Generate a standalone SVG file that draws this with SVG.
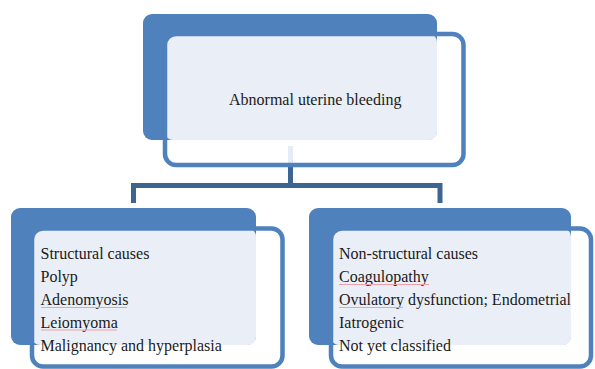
<svg xmlns="http://www.w3.org/2000/svg" width="595" height="369" viewBox="0 0 595 369">
<style>
.back{fill:#4f81bd}
.light{fill:#eaeff7}
.front{fill:none;stroke:#4f81bd;stroke-width:4.5}
.conn{fill:none;stroke:#3d6594;stroke-width:5}
.t{font-family:"Liberation Serif","Times New Roman",serif;font-size:16px;fill:#1a1a1a}
.sp{fill:none;stroke:#f0a0a8;stroke-width:1}
</style>
<rect width="595" height="369" fill="#ffffff"/>
<g id="connectors">
<line x1="290.5" y1="146" x2="290.5" y2="163" stroke="#e6ecf5" stroke-width="5"/>
<path class="conn" d="M133.5,203 V185.5 H440 V203 M290.5,167 V185.5"/>
</g>
<g id="node-top">
<rect class="back" x="143" y="14" width="294" height="126" rx="9"/>
<rect class="light" x="165" y="34" width="272" height="106" rx="8"/>
<rect class="front" x="165" y="34" width="298.5" height="131" rx="11"/>
<text class="t" x="229" y="105">Abnormal uterine bleeding</text>
</g>
<g id="node-structural">
<rect class="back" x="11" y="208" width="245" height="137" rx="9"/>
<rect class="light" x="32" y="228.5" width="224" height="116.5" rx="8"/>
<rect class="front" x="32" y="228.5" width="250.5" height="138" rx="11"/>
<text class="t" x="40.5" y="259">Structural causes</text>
<text class="t" x="40.5" y="282">Polyp</text>
<text class="t" x="40.5" y="305">Adenomyosis</text>
<text class="t" x="40.5" y="327.5">Leiomyoma</text>
<text class="t" x="40.5" y="350.5">Malignancy and hyperplasia</text>
<path class="sp" d="M41,307.5 H127"/>
<path class="sp" d="M41,330 H117"/>
</g>
<g id="node-nonstructural">
<rect class="back" x="309" y="208" width="262" height="137" rx="9"/>
<rect class="light" x="331" y="228.5" width="240" height="116.5" rx="8"/>
<rect class="front" x="331" y="228.5" width="260" height="138" rx="11"/>
<text class="t" x="339" y="259">Non-structural causes</text>
<text class="t" x="339" y="282">Coagulopathy</text>
<text class="t" x="339" y="305">Ovulatory dysfunction; Endometrial</text>
<text class="t" x="339" y="327.5">Iatrogenic</text>
<text class="t" x="339" y="350.5">Not yet classified</text>
<path class="sp" d="M339,284.5 H429"/>
<path class="sp" d="M339,307.5 H403"/>
</g>
</svg>
